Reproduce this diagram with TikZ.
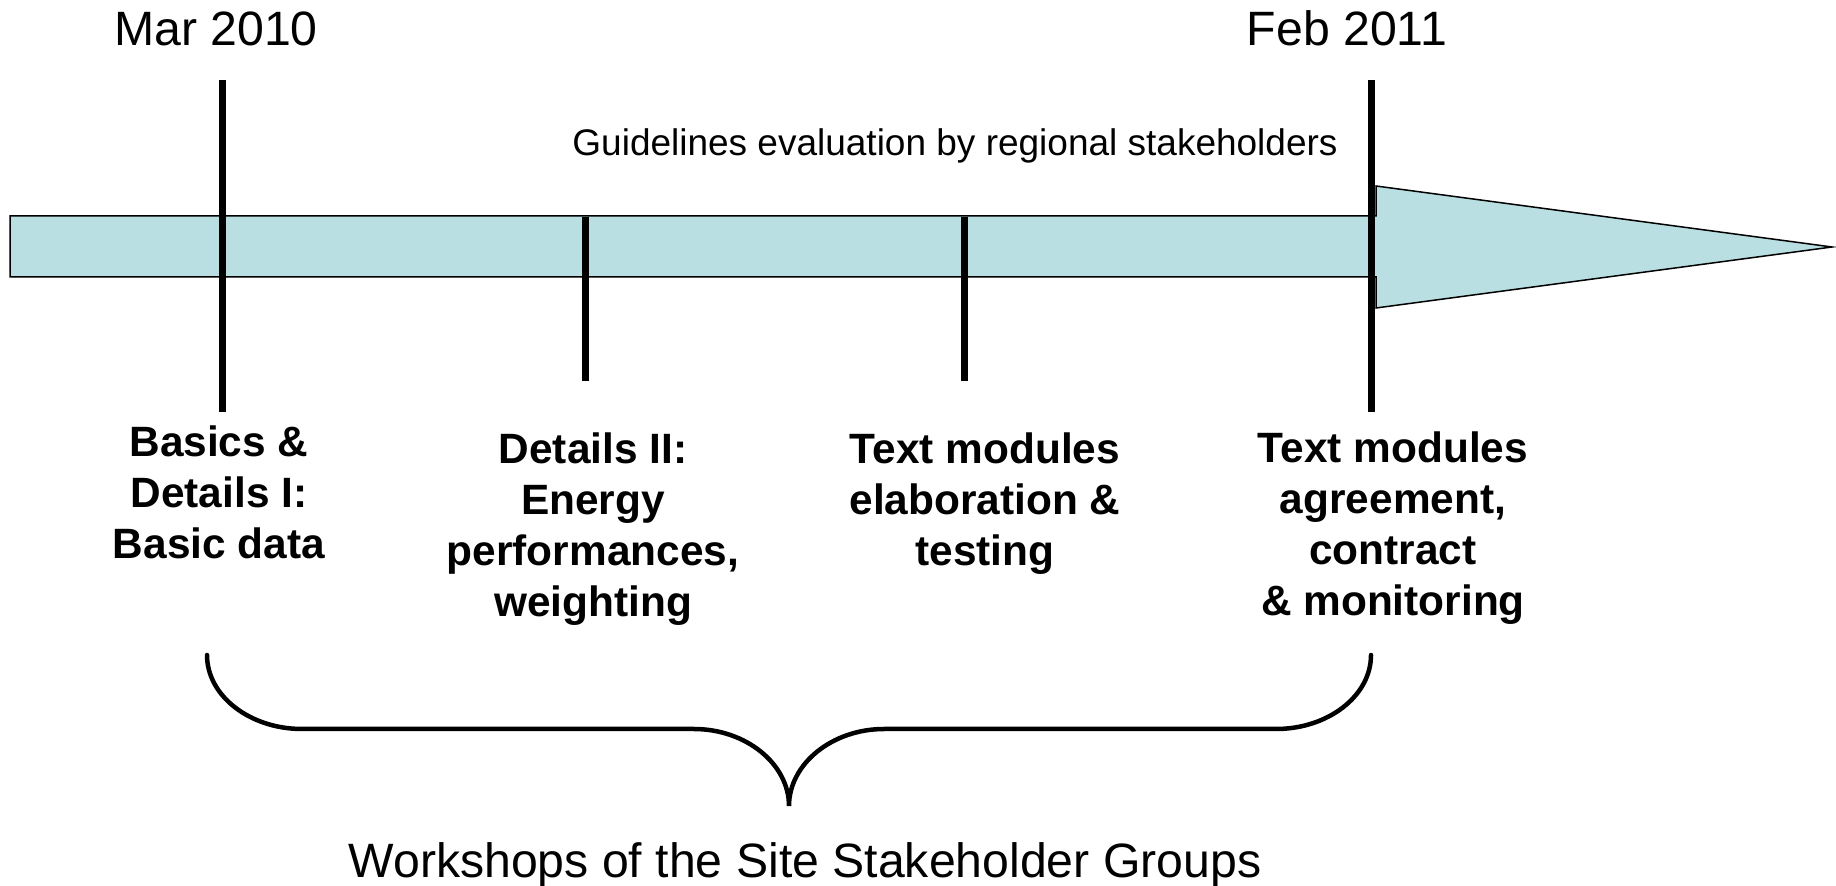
\documentclass[tikz,border=0pt]{standalone}
\usepackage{fontspec}
\setmainfont{Liberation Sans}
\definecolor{barfill}{RGB}{185,223,227}
\begin{document}
\begin{tikzpicture}[x=0.5pt,y=-0.5pt,
  tick/.style={line width=3.5pt},
  datelabel/.style={font=\fontsize{24.1}{28}\selectfont,inner sep=0pt,anchor=base},
  phaselabel/.style={font=\fontsize{21.2}{25.5}\selectfont\bfseries,align=center,inner sep=0pt,anchor=base},
  bracepath/.style={line width=2.25pt,line cap=round}]
\useasboundingbox (0,0) rectangle (1836,886);
% timeline arrow
\draw[line width=0.75pt,fill=barfill]
  (10,216) -- (1376,216) -- (1376,186) -- (1832,247) -- (1376,308) -- (1376,277) -- (10,277) -- cycle;
% ticks
\coordinate (t1a) at (222.5,80);  \coordinate (t1b) at (222.5,412);
\coordinate (t2a) at (585.5,217); \coordinate (t2b) at (585.5,381);
\coordinate (t3a) at (964,217);   \coordinate (t3b) at (964,381);
\coordinate (t4a) at (1371,80);   \coordinate (t4b) at (1371,412);
\draw[tick] (t1a) -- (t1b);
\draw[tick] (t2a) -- (t2b);
\draw[tick] (t3a) -- (t3b);
\draw[tick] (t4a) -- (t4b);
% texts
\node[datelabel] (mar) at (216,46) {Mar 2010};
\node[datelabel] (feb) at (1347,46) {Feb 2011};
\node[font=\fontsize{18.5}{22}\selectfont,inner sep=0pt,anchor=base] (guide) at (955,156) {Guidelines evaluation by regional stakeholders};
\node[phaselabel] (p1) at (219,559) {Basics \&\\Details I:\\Basic data};
\node[phaselabel] (p2) at (593,617) {Details II:\\Energy\\performances,\\weighting};
\node[phaselabel] (p3) at (985,566) {Text modules\\elaboration \&\\testing};
\node[phaselabel] (p4) at (1393,616) {Text modules\\agreement,\\contract\\\& monitoring};
\node[datelabel] (work) at (805,877) {Workshops of the Site Stakeholder Groups};
% brace
\coordinate (bl) at (207,655);
\coordinate (br) at (1371,655);
\coordinate (bm) at (789,806);
\draw[bracepath] (bl) .. controls (207,696) and (250,729) .. (302,729)
  -- (694,729) .. controls (746,729) and (789,764) .. (bm)
  .. controls (789,764) and (832,729) .. (884,729)
  -- (1276,729) .. controls (1328,729) and (1371,696) .. (br);
\end{tikzpicture}
\end{document}
